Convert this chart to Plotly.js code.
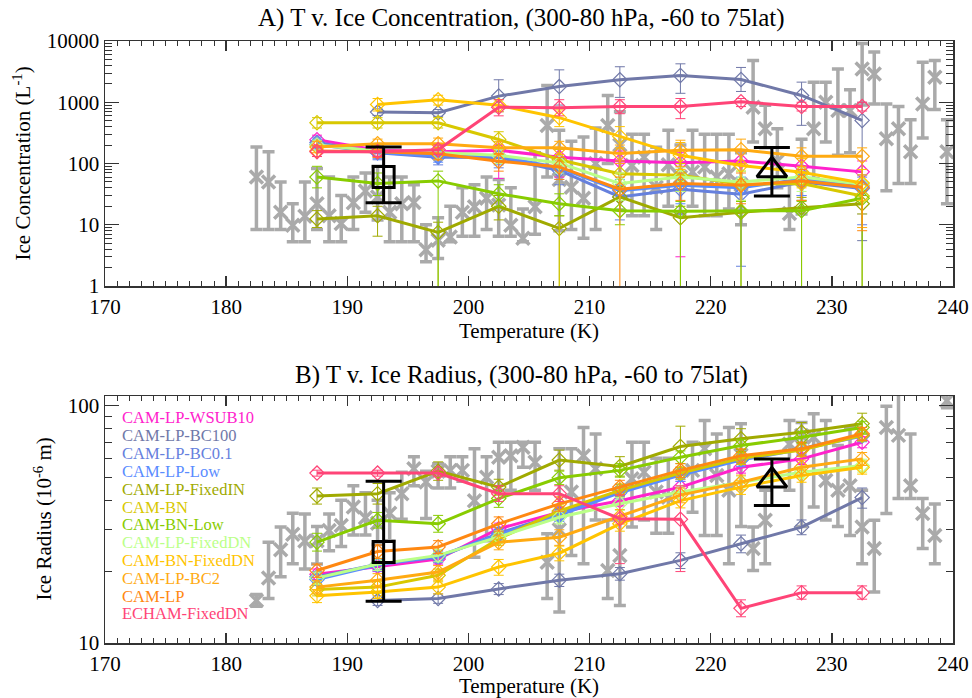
<!DOCTYPE html>
<html><head><meta charset="utf-8">
<script src="https://cdn.plot.ly/plotly-3.0.1.min.js"></script>
<style>html,body{margin:0;padding:0;background:#fff}</style>
</head><body><div id="chart" style="width:972px;height:698px"></div>
<script>
const T_MODEL = [187.5,192.5,197.5,202.5,207.5,212.5,217.5,222.5,227.5,232.5];
const NAMES = ['CAM-LP-WSUB10','CAM-LP-BC100','CAM-LP-BC0.1','CAM-LP-Low','CAM-LP-FixedIN','CAM-BN','CAM-BN-Low','CAM-LP-FixedDN','CAM-BN-FixedDN','CAM-LP-BC2','CAM-LP','ECHAM-FixedDN'];
const COLORS = ['#ff22cc','#7078a8','#6680dd','#5a8cff','#a0aa00','#d8c800','#88cc00','#bbff88','#ffc400','#ffaa11','#ff8811','#ff4477'];

// Panel A: ice concentration (L^-1)
const concVal = [
 [245,165,155,164,127,110,103,110,90,73],
 [null,690,675,1260,1800,2330,2740,2350,1290,505],
 [220,150,127,125,77,28.5,38,31.6,50,39],
 [205,150,135,132,85,36,44,40,56,43],
 [12.4,14,7.5,20,8.7,28.5,13,16,19,22],
 [464,464,464,247,115,68,64,46,47,29.5],
 [60,47,52,32,22,17,16.6,16.8,17,27],
 [200,160,150,136,102,47,60,50,60,46],
 [null,920,1100,890,560,277,136,93,72,48],
 [186,210,210,180,180,145,164,168,131,131],
 [160,155,144,109,88,38,47,44,52,41],
 [155,155,168,830,815,850,850,1020,850,850]
];
const concHi = [
 [290,200,190,200,170,160,150,160,130,110],
 [null,780,760,2330,3380,3800,4240,3700,2130,1000],
 [270,190,165,170,120,45,60,50,75,60],
 [250,185,170,175,125,55,65,60,80,65],
 [17,20,11,30,14,42,20,24,28,30],
 [560,560,560,330,170,110,100,75,70,45],
 [90,70,75,45,32,25,24,24,24,36],
 [240,200,185,170,140,70,85,75,85,65],
 [null,1150,1300,1100,750,400,220,160,120,80],
 [230,250,260,230,230,200,240,250,180,180],
 [195,190,180,145,125,60,70,70,80,65],
 [185,185,200,1100,1100,1100,1150,1150,1000,1000]
];
const concLo = [
 [200,130,120,57,60,40,3,40,30,25],
 [null,610,590,700,900,1200,1400,1500,420,5.5],
 [180,115,95,85,45,12,15,2.1,25,10],
 [165,120,105,95,55,18,22,18,30,15],
 [9,6.5,0.5,12,0.5,18,0.5,0.5,0.5,0.5],
 [380,380,380,180,0.5,40,35,25,25,15],
 [40,30,0.5,20,14,10,0.5,0.5,0.5,0.5],
 [165,125,115,100,70,25,35,25,35,25],
 [null,720,900,700,400,180,80,50,40,25],
 [150,170,170,140,140,100,90,100,90,9],
 [130,125,115,75,55,0.5,25,22,25,8],
 [130,130,140,600,600,650,540,850,720,720]
];

// Panel B: ice radius (10^-6 m)
const radVal = [
 [19.5,21,22.6,30.3,35.6,39.8,45.4,55,59.7,70.2],
 [null,15.1,15.4,16.9,18.4,19.6,22.3,26.2,30.8,41],
 [19,21.5,23,29,35,44,52,60,66,75],
 [18.5,21.3,23.2,28.6,34.5,43,51,59,65.5,74.5],
 [41.6,42.6,53,45.4,59,55.5,67.3,72.6,77.3,84],
 [16.8,17.2,19.3,27.5,36,44,52,60,65,75],
 [26.6,32.9,31.8,40.6,49.7,53.4,60.7,68,73.6,81],
 [18.8,21.5,23.4,28,33.9,38.6,43.3,47.5,52.5,56],
 [15.8,16.4,17.2,20.9,23.9,31.8,39.8,45.4,50.8,55],
 [17.2,18.4,19.9,26.6,27.9,34.1,42,47.6,55,59.7],
 [20.2,24.3,25.4,31.8,38.6,45.4,53.4,61.6,65.8,76.2],
 [52,52,52,42.6,42.6,33.4,33.2,14,16.3,16.3]
];
const radHi = [
 [20.5,22,23.8,32,37.5,42,48,58,63,74],
 [null,15.8,16.1,17.8,19.5,20.8,24,28.5,33,45],
 [20,22.7,24.2,30.6,37,46.5,55,63.5,70,79],
 [19.5,22.5,24.5,30.2,36.5,45.5,54,62.5,69,78.5],
 [45,47,58,49,65,61,82,80,85,93],
 [17.8,18.2,20.5,29.2,38.2,46.8,55,63.5,69,79],
 [29,35.5,34.5,44,53,57,64.5,72,78,86],
 [19.9,22.8,24.8,29.7,36,41,46,50.5,55.5,59.5],
 [16.8,17.4,18.3,22.5,25.6,34,42.5,48.5,54,58.5],
 [18.3,19.6,21.2,28.5,30,36.5,45,51,59,63.5],
 [21.5,25.9,27,34,41.3,48.5,57,65.8,70.2,81],
 [53.5,53.5,53.5,46,46,42,46,15.2,17.4,17.4]
];
const radLo = [
 [18.5,20,21.5,28.7,33.8,37.8,43,52,56.5,66.5],
 [null,14.4,14.7,16,17.3,18.4,20.6,24,28.6,37],
 [18,20.3,21.8,27.4,33,41.5,49,56.5,62,71],
 [17.5,20.1,21.9,27,32.5,40.5,48,55.5,62,70.5],
 [38.5,38.5,48.5,42,53.5,50.5,55,65.5,70,76],
 [15.8,16.2,18.1,25.8,33.8,41.2,49,56.5,61,71],
 [24.4,30.5,29.3,37.3,46.5,50,57,64,69.5,76],
 [17.7,20.2,22,26.3,31.8,36.2,40.6,44.5,49.5,52.5],
 [14.8,15.4,16.1,19.3,22.2,29.6,37.1,42.3,47.6,51.5],
 [16.1,17.2,18.6,24.7,25.8,31.7,39,44.2,51,56],
 [18.9,22.7,23.8,29.6,35.9,42.3,49.8,57.4,61.4,71.4],
 [50.5,50.5,50.5,39.5,39.5,21.6,20,12.9,15.3,15.3]
];

// Observations (grey crosses)
const obsConcT = [182.5,183.5,184.5,185.5,186.5,187.5,188.5,189.5,190.5,191.5,192.5,193.5,194.5,195.5,196.5,197.5,198.5,199.5,200.5,201.5,202.5,203.5,204.5,205.5,206.5,207.5,208.5,209.5,210.5,211.5,212.5,213.5,214.5,215.5,216.5,217.5,218.5,219.5,220.5,221.5,222.5,223.5,224.5,225.5,226.5,227.5,228.5,229.5,230.5,231.5,232.5,233.5,234.5,235.5,236.5,237.5,238.5,239.5];
const obsConc   = [60,50,16,9.8,13.8,22,14,10.5,22.8,35.5,28.5,16,22,23,3.9,5.6,6.3,16,19.6,27,21,9.8,6,19.6,417,55,41,27,100,417,200,93,127,41,95,60,73,88,60,68,45,830,370,110,15.3,60,370,1000,735,735,3500,2900,253,370,155,940,2560,155];
const obsConcHi = [186,155,50,22,50,83,60,30,60,70,90,60,60,45,10,13,20,40,45,60,55,40,18,150,1870,350,230,270,380,1290,700,300,300,185,350,200,350,300,300,300,150,4800,890,370,47,250,2130,2130,3500,1600,9100,6600,940,850,520,4500,4800,520];
const obsConcLo = [8.4,8.4,8.4,5.3,5.3,8.4,5.3,5.3,8.4,16,12,5.3,5.3,5.3,2.5,2.8,5.3,6.5,6.5,8.4,6.5,6.5,5.3,7,60,8,8.4,6,8.4,100,40,14,14,8.4,20,15,20,14,14,18,10,224,180,40,8.4,15,57,224,136,150,900,940,36,47,47,260,760,22];

const obsRadT = [182.5,183.5,184.5,185.5,186.5,187.5,188.5,189.5,190.5,191.5,192.5,193.5,194.5,195.5,196.5,197.5,198.5,199.5,200.5,201.5,202.5,203.5,204.5,205.5,206.5,207.5,208.5,209.5,210.5,211.5,212.5,213.5,214.5,215.5,216.5,218.5,219.5,220.5,221.5,222.5,223.5,224.5,226.5,227.5,228.5,229.5,230.5,231.5,232.5,233.5,234.5,235.5,236.5,237.5,238.5,239.5];
const obsRad   = [15.1,18.8,24.7,28.7,26.9,27,29.8,31.3,37.4,33.7,32,35.2,42.6,54.2,47.7,53,53.4,53.4,39.8,50,60.7,61.6,66.8,57.8,21.9,30,43.3,61.6,54.2,20.2,23.4,49.2,52.5,43.3,41.1,53.4,65.8,50.8,44,62,25,32.9,69,75,73.6,48.4,44,46,30.8,25,81,75,46,35.1,28.4,105];
const obsRadHi = [16,26.6,30.8,35.2,35,31,35,40,46,43,40,43,52.5,61,53,57,61,61,65.8,61,70.2,70.2,70.2,70.2,28.9,65.8,65.8,81,76,33,33,70.2,70.2,60,60,70.2,86.6,76,81,84,30.8,44,86.6,85,92.4,86.6,68,81,44,32.9,99.4,115,76,40.6,38.5,120];
const obsRadLo = [14.3,15.4,19,21.6,20.5,21.5,24.5,25.5,28.5,28.5,26,27,33.2,46,33.5,45,45,48,23,27,44,44,55,44,15.4,13.5,23.4,21.6,33,15.4,14.4,30.8,33,29,29,35.6,28.4,28.4,21.6,31,20.2,21.6,44,31,37.4,33,31,28.4,21.6,16.4,35.1,40.6,40.6,25,21.6,98];

// Reference measurements (black square and triangle)
const refSqT = [193.0], refSqConc = [60], refSqConcHi = [186], refSqConcLo = [22.8];
const refSqRad = [24.2], refSqRadHi = [48], refSqRadLo = [15];
const refTriT = [225.05], refTriConc = [77.6], refTriConcHi = [182], refTriConcLo = [29.5];
const refTriRad = [48.4], refTriRadHi = [59.7], refTriRadLo = [38];

const TITLE_A = 'A) T v. Ice Concentration, (300-80 hPa, -60 to 75lat)';
const TITLE_B = 'B) T v. Ice Radius, (300-80 hPa, -60 to 75lat)';
const YTITLE_A = 'Ice Concentration (L<sup>-1</sup>)';
const YTITLE_B = 'Ice Radius (10<sup>-6</sup> m)';

function up(v, hi){ return v.map((x,i)=> x==null? null : hi[i]-x); }
function dn(v, lo){ return v.map((x,i)=> x==null? null : x-lo[i]); }

const FONT = 'Liberation Serif, serif';
const GREY = '#aaaaaa';
const traces = [];

function obsTrace(x, y, hi, lo, xa, ya){
  return {x:x, y:y, xaxis:xa, yaxis:ya, type:'scatter', mode:'markers', hoverinfo:'skip',
    marker:{symbol:'x-thin-open', size:13, color:GREY, line:{color:GREY, width:3.5}},
    error_y:{type:'data', symmetric:false, array:up(y,hi), arrayminus:dn(y,lo), color:GREY, thickness:3.5, width:6}};
}
traces.push(obsTrace(obsConcT, obsConc, obsConcHi, obsConcLo, 'x', 'y'));
traces.push(obsTrace(obsRadT, obsRad, obsRadHi, obsRadLo, 'x2', 'y2'));

function modelTrace(i, v, hi, lo, xa, ya){
  return {x:T_MODEL, y:v, xaxis:xa, yaxis:ya, type:'scatter', mode:'lines+markers', name:NAMES[i],
    line:{color:COLORS[i], width:3},
    marker:{symbol:'diamond-open', size:11, color:COLORS[i], line:{color:COLORS[i], width:1.2}},
    error_y:{type:'data', symmetric:false, array:up(v,hi), arrayminus:dn(v,lo), color:COLORS[i], thickness:1, width:5}};
}
for (let i=0;i<NAMES.length;i++){
  traces.push(modelTrace(i, concVal[i], concHi[i], concLo[i], 'x', 'y'));
}
for (let i=0;i<NAMES.length;i++){
  traces.push(modelTrace(i, radVal[i], radHi[i], radLo[i], 'x2', 'y2'));
}

function refTrace(x, y, hi, lo, sym, size, xa, ya){
  return {x:x, y:y, xaxis:xa, yaxis:ya, type:'scatter', mode:'markers',
    marker:{symbol:sym, size:size, color:'black', line:{color:'black', width:3}},
    error_y:{type:'data', symmetric:false, array:up(y,hi), arrayminus:dn(y,lo), color:'black', thickness:3, width:18}};
}
traces.push(refTrace(refSqT, refSqConc, refSqConcHi, refSqConcLo, 'square-open', 21, 'x', 'y'));
traces.push(refTrace(refTriT, refTriConc, refTriConcHi, refTriConcLo, 'triangle-up-open', 26, 'x', 'y'));
traces.push(refTrace(refSqT, refSqRad, refSqRadHi, refSqRadLo, 'square-open', 21, 'x2', 'y2'));
traces.push(refTrace(refTriT, refTriRad, refTriRadHi, refTriRadLo, 'triangle-up-open', 26, 'x2', 'y2'));

const minorTop = [];
[1,10,100,1000].forEach(d=>{ for(let k=2;k<=9;k++) minorTop.push(k*d); });
const minorBot = [20,30,40,50,60,70,80,90];

const xBase = {range:[170,240], tickmode:'linear', tick0:170, dtick:10, ticks:'inside', ticklen:10, tickwidth:1.3,
  tickcolor:'#333', showline:true, linecolor:'#333', linewidth:1.5, mirror:'ticks', showgrid:false, zeroline:false,
  tickfont:{family:FONT, size:21, color:'black'}, ticklabelstandoff:1,
  minor:{dtick:1, tick0:170, ticks:'inside', ticklen:5, tickwidth:1, tickcolor:'#333', showgrid:false},
  title:{text:'Temperature (K)', font:{family:FONT, size:21, color:'black'}, standoff:0}};
const yBase = {type:'log', ticks:'inside', ticklen:14, tickwidth:1.3, tickcolor:'#333', showline:true, linecolor:'#333',
  linewidth:1.5, mirror:'ticks', showgrid:false, zeroline:false, tickfont:{family:FONT, size:21, color:'black'}};

const PLOT_L = 105, PLOT_W = 848, PLOT_T = 41, PLOT_B = 55, H = 698;
const plotH = H - PLOT_T - PLOT_B;
function paperY(px){ return (H - PLOT_B - px)/plotH; }
function paperX(px){ return (px - PLOT_L)/PLOT_W; }

const annotations = [
  {text:TITLE_A, xref:'paper', yref:'paper', x:paperX(521), y:paperY(18), showarrow:false, xanchor:'center', yanchor:'middle', font:{family:FONT, size:25, color:'black'}},
  {text:TITLE_B, xref:'paper', yref:'paper', x:paperX(521), y:paperY(375), showarrow:false, xanchor:'center', yanchor:'middle', font:{family:FONT, size:25, color:'black'}},
  {text:YTITLE_A, xref:'paper', yref:'paper', x:paperX(22), y:paperY(163.5), textangle:-90, showarrow:false, xanchor:'center', yanchor:'middle', font:{family:FONT, size:21, color:'black'}},
  {text:YTITLE_B, xref:'paper', yref:'paper', x:paperX(43), y:paperY(519.5), textangle:-90, showarrow:false, xanchor:'center', yanchor:'middle', font:{family:FONT, size:21, color:'black'}}
];
NAMES.forEach((n,i)=>{
  annotations.push({text:n, xref:'x2', yref:'paper', x:171.2, y:paperY(418 + i*17.8), showarrow:false,
    xanchor:'left', yanchor:'middle', font:{family:FONT, size:16.5, color:COLORS[i]}});
});

const layout = {
  width:972, height:698, paper_bgcolor:'white', plot_bgcolor:'white', showlegend:false,
  margin:{l:PLOT_L, r:19, t:PLOT_T, b:PLOT_B},
  font:{family:FONT, color:'black'},
  xaxis:Object.assign({}, xBase, {anchor:'y', domain:[0,1]}),
  xaxis2:Object.assign({}, xBase, {anchor:'y2', domain:[0,1]}),
  yaxis:Object.assign({}, yBase, {anchor:'x', domain:[paperY(286),1], range:[0,4],
    tickvals:[1,10,100,1000,10000], ticktext:['1','10','100','1000','10000'],
    minor:{tickvals:minorTop, ticks:'inside', ticklen:7, tickwidth:1, tickcolor:'#333', showgrid:false}}),
  yaxis2:Object.assign({}, yBase, {anchor:'x2', domain:[0,paperY(396)], range:[1,2.041],
    tickvals:[10,100], ticktext:['10','100'],
    minor:{tickvals:minorBot, ticks:'inside', ticklen:7, tickwidth:1, tickcolor:'#333', showgrid:false}}),
  annotations:annotations
};

Plotly.newPlot('chart', traces, layout, {displayModeBar:false, staticPlot:true});
</script></body></html>
